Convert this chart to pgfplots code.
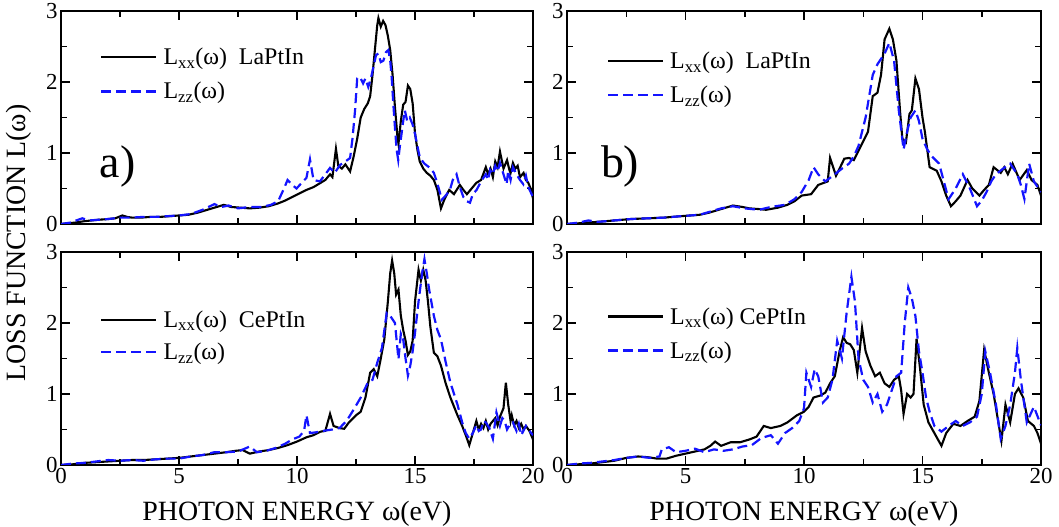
\documentclass[border=0pt]{standalone}
\usepackage{pgfplots}
\pgfplotsset{compat=1.18}
\usepackage{fontspec}
\setmainfont{Liberation Serif}
\newfontfamily\tnr{Liberation Serif}

\pgfplotsset{
 panel/.style={
  scale only axis, height=213bp,
  xmin=0,xmax=20,ymin=0,ymax=3,
  xtick={0,5,10,15,20}, ytick={0,1,2,3},
  minor x tick num=1, minor y tick num=1,
  tick align=inside,
  major tick length=9bp, minor tick length=6bp,
  tick style={black, line width=1.5bp},
  axis line style={line width=2.4bp},
  tick label style={font=\tnr\fontsize{23}{23}\selectfont},
  /pgf/number format/assume math mode=true,
  legend style={draw=none, fill=none, font=\tnr\fontsize{24}{26}\selectfont, anchor=north west, row sep=12bp, inner sep=0pt, column sep=4bp, cells={anchor=west}},
  legend image code/.code={\draw[##1] (0bp,0bp) -- (55bp,0bp);},
  xlabel style={font=\tnr\fontsize{28}{28}\selectfont, yshift=-10bp},
 },
 blk/.style={black, line width=2.1bp},
 blu/.style={color={rgb,255:red,20;green,20;blue,255}, line width=2.2bp, dash pattern=on 10bp off 5bp},
}

\begin{document}
\begin{tikzpicture}
\path[use as bounding box] (0,0) rectangle (1059bp,527bp);

% ---------------- panel a ----------------
\begin{axis}[panel, width=472bp, at={(61bp,303bp)}, anchor=south west, xticklabels={},
  legend style={at={(0.083,0.835)}}]
\addplot[blk] coordinates {(0,0) (0.3,0.01) (0.6,0.02) (1,0.04) (1.3,0.05) (1.6,0.06) (2,0.07) (2.3,0.08) (2.6,0.12) (2.8,0.10) (3,0.09) (3.4,0.09) (3.8,0.10) (4.2,0.10) (4.6,0.11) (5,0.12) (5.4,0.13) (5.8,0.16) (6.2,0.20) (6.6,0.24) (6.9,0.27) (7.2,0.24) (7.6,0.23) (8,0.22) (8.4,0.23) (8.8,0.25) (9.2,0.29) (9.5,0.33) (9.8,0.38) (10.1,0.43) (10.4,0.48) (10.7,0.52) (11.0,0.58) (11.2,0.62) (11.4,0.70) (11.5,0.66) (11.65,1.06) (11.75,0.82) (11.9,0.78) (12.05,0.84) (12.25,0.74) (12.4,0.95) (12.55,1.20) (12.7,1.50) (12.85,1.62) (13.0,1.70) (13.1,1.80) (13.2,2.10) (13.3,2.45) (13.4,2.80) (13.45,2.90) (13.55,2.78) (13.65,2.86) (13.75,2.80) (13.85,2.65) (13.95,2.45) (14.05,2.10) (14.15,1.65) (14.25,1.25) (14.3,1.13) (14.4,1.45) (14.5,1.68) (14.6,1.72) (14.7,1.95) (14.8,1.90) (14.9,1.70) (15.0,1.28) (15.1,1.05) (15.2,0.88) (15.35,0.78) (15.5,0.72) (15.65,0.68) (15.8,0.62) (15.95,0.48) (16.1,0.22) (16.25,0.35) (16.45,0.48) (16.65,0.42) (16.9,0.55) (17.05,0.48) (17.2,0.42) (17.4,0.50) (17.6,0.58) (17.8,0.62) (18.0,0.80) (18.1,0.70) (18.2,0.78) (18.3,0.66) (18.4,0.88) (18.5,0.80) (18.6,1.02) (18.7,0.86) (18.75,0.78) (18.9,0.90) (19.0,0.76) (19.05,0.72) (19.15,0.86) (19.25,0.78) (19.35,0.82) (19.45,0.66) (19.6,0.72) (19.7,0.62) (19.8,0.58) (19.9,0.50) (20,0.36)};
\addlegendentry{L\textsubscript{xx}(ω)~~LaPtIn}
\addplot[blu] coordinates {(0,0) (0.4,0.02) (0.9,0.08) (1.2,0.05) (1.6,0.06) (2,0.07) (2.5,0.09) (3,0.09) (3.5,0.10) (4,0.10) (4.5,0.11) (5,0.12) (5.5,0.14) (6,0.20) (6.5,0.28) (6.8,0.24) (7.1,0.26) (7.5,0.22) (8,0.24) (8.5,0.24) (8.9,0.27) (9.2,0.32) (9.45,0.50) (9.6,0.62) (9.8,0.55) (9.98,0.50) (10.2,0.58) (10.4,0.65) (10.55,0.91) (10.7,0.62) (10.97,0.60) (11.2,0.70) (11.4,0.79) (11.6,0.72) (11.82,0.83) (12.05,0.88) (12.25,0.93) (12.35,1.20) (12.46,1.60) (12.55,2.05) (12.67,2.07) (12.8,1.98) (12.9,2.05) (13.02,1.93) (13.13,2.05) (13.23,2.20) (13.35,2.38) (13.45,2.40) (13.55,2.28) (13.66,2.30) (13.77,2.42) (13.87,2.45) (13.95,2.30) (14.01,2.07) (14.08,1.70) (14.15,1.36) (14.22,1.05) (14.29,0.90) (14.36,1.10) (14.43,1.27) (14.5,1.45) (14.57,1.60) (14.67,1.45) (14.78,1.50) (14.9,1.40) (15.0,1.27) (15.1,1.10) (15.21,0.93) (15.4,0.85) (15.63,0.79) (15.8,0.72) (15.92,0.60) (16.05,0.45) (16.13,0.34) (16.3,0.40) (16.48,0.48) (16.6,0.62) (16.76,0.70) (16.9,0.52) (17.05,0.38) (17.2,0.32) (17.33,0.30) (17.45,0.42) (17.61,0.48) (17.8,0.60) (18.0,0.70) (18.1,0.62) (18.18,0.76) (18.3,0.70) (18.4,0.82) (18.5,0.74) (18.6,0.86) (18.75,0.70) (18.88,0.56) (18.95,0.75) (19.05,0.62) (19.15,0.80) (19.3,0.70) (19.45,0.62) (19.59,0.56) (19.7,0.68) (19.8,0.52) (20,0.38)};
\addlegendentry{L\textsubscript{zz}(ω)}
\node[font=\tnr\fontsize{46}{46}\selectfont] at (rel axis cs:0.12,0.27) {a)};
\end{axis}

% ---------------- panel b ----------------
\begin{axis}[panel, width=474bp, at={(567bp,303bp)}, anchor=south west, xticklabels={},
  legend style={at={(0.084,0.817)}}]
\addplot[blk] coordinates {(0,0) (0.5,0.01) (1.3,0.03) (2,0.05) (2.7,0.07) (3.4,0.08) (4.1,0.09) (4.8,0.11) (5.6,0.13) (6.0,0.16) (6.4,0.20) (7.0,0.26) (7.4,0.24) (7.7,0.22) (8.1,0.21) (8.4,0.20) (8.9,0.23) (9.3,0.27) (9.6,0.32) (9.9,0.40) (10.3,0.42) (10.6,0.55) (11.0,0.60) (11.1,0.93) (11.35,0.68) (11.5,0.78) (11.7,0.92) (11.9,0.93) (12.1,0.90) (12.4,1.10) (12.7,1.30) (12.9,1.80) (13.1,1.85) (13.25,2.10) (13.4,2.60) (13.6,2.75) (13.75,2.60) (13.9,2.30) (14.05,1.60) (14.15,1.20) (14.3,1.15) (14.45,1.55) (14.55,1.60) (14.7,2.05) (14.85,1.90) (15.0,1.50) (15.1,1.30) (15.3,0.80) (15.6,0.75) (15.8,0.60) (16.0,0.40) (16.2,0.25) (16.4,0.32) (16.6,0.40) (16.9,0.62) (17.1,0.50) (17.4,0.40) (17.6,0.48) (17.8,0.55) (18.0,0.80) (18.3,0.72) (18.45,0.80) (18.6,0.70) (18.8,0.85) (19.1,0.62) (19.4,0.76) (19.6,0.62) (19.85,0.55) (20,0.40)};
\addlegendentry{L\textsubscript{xx}(ω)~~LaPtIn}
\addplot[blu] coordinates {(0,0) (0.5,0.02) (0.9,0.05) (1.3,0.03) (2,0.05) (2.7,0.07) (3.4,0.08) (4.1,0.09) (4.8,0.11) (5.6,0.13) (6.0,0.17) (6.5,0.22) (7.0,0.25) (7.5,0.22) (8.1,0.20) (8.6,0.24) (9.2,0.27) (9.6,0.35) (9.9,0.45) (10.2,0.62) (10.4,0.80) (10.6,0.70) (10.9,0.60) (11.3,0.70) (11.6,0.78) (11.9,0.85) (12.1,0.95) (12.3,1.10) (12.6,1.50) (12.9,2.10) (13.1,2.25) (13.4,2.40) (13.6,2.55) (13.8,2.30) (14.0,1.60) (14.2,1.05) (14.35,1.30) (14.5,1.50) (14.7,1.60) (14.85,1.45) (15.0,1.20) (15.2,1.05) (15.4,0.95) (15.7,0.85) (15.9,0.60) (16.1,0.35) (16.4,0.50) (16.7,0.70) (17.0,0.50) (17.3,0.25) (17.5,0.33) (17.7,0.45) (17.9,0.60) (18.1,0.70) (18.4,0.78) (18.7,0.85) (19.0,0.70) (19.15,0.55) (19.3,0.35) (19.5,0.85) (19.7,0.60) (20,0.45)};
\addlegendentry{L\textsubscript{zz}(ω)}
\node[font=\tnr\fontsize{46}{46}\selectfont] at (rel axis cs:0.112,0.27) {b)};
\end{axis}

% ---------------- panel c ----------------
\begin{axis}[panel, width=472bp, at={(61bp,62bp)}, anchor=south west,
  xlabel={PHOTON ENERGY ω(eV)},
  legend style={at={(0.083,0.735)}, row sep=10bp}]
\addplot[blk] coordinates {(0,0) (0.5,0.01) (1,0.03) (1.5,0.04) (2,0.05) (2.5,0.06) (3,0.07) (3.5,0.07) (4,0.08) (4.5,0.09) (5,0.10) (5.5,0.12) (6,0.14) (6.5,0.16) (7,0.18) (7.4,0.20) (7.7,0.21) (8.0,0.16) (8.4,0.19) (8.8,0.21) (9.2,0.24) (9.6,0.28) (10.0,0.33) (10.4,0.39) (10.7,0.42) (11.0,0.47) (11.2,0.48) (11.4,0.72) (11.55,0.55) (11.8,0.52) (12.0,0.51) (12.2,0.60) (12.5,0.70) (12.7,0.75) (12.9,0.95) (13.1,1.30) (13.25,1.35) (13.4,1.25) (13.55,1.50) (13.7,1.77) (13.85,2.30) (13.95,2.70) (14.03,2.88) (14.12,2.70) (14.2,2.40) (14.3,2.47) (14.4,2.10) (14.5,1.90) (14.6,1.75) (14.7,1.55) (14.8,1.60) (14.9,1.75) (15.0,2.30) (15.15,2.75) (15.25,2.60) (15.35,2.75) (15.45,2.60) (15.55,2.30) (15.65,1.95) (15.8,1.58) (15.95,1.53) (16.1,1.40) (16.3,1.15) (16.5,0.95) (16.8,0.70) (17.0,0.55) (17.15,0.42) (17.3,0.28) (17.45,0.45) (17.6,0.62) (17.7,0.50) (17.8,0.58) (17.9,0.52) (18.0,0.62) (18.1,0.50) (18.2,0.58) (18.3,0.62) (18.4,0.66) (18.5,0.56) (18.6,0.68) (18.75,0.80) (18.85,1.16) (18.95,0.85) (19.05,0.62) (19.1,0.70) (19.2,0.56) (19.3,0.62) (19.4,0.52) (19.5,0.58) (19.6,0.50) (19.7,0.55) (19.85,0.48) (20,0.36)};
\addlegendentry{L\textsubscript{xx}(ω)~~CePtIn}
\addplot[blu] coordinates {(0,0) (0.5,0.02) (1,0.03) (1.5,0.05) (2,0.07) (2.5,0.06) (3,0.07) (3.5,0.06) (4,0.08) (4.5,0.09) (5,0.09) (5.5,0.12) (6,0.14) (6.5,0.18) (7,0.18) (7.5,0.19) (8.0,0.26) (8.3,0.18) (8.7,0.20) (9.1,0.24) (9.5,0.30) (9.8,0.36) (10.1,0.40) (10.3,0.48) (10.4,0.70) (10.55,0.45) (10.8,0.46) (11.1,0.48) (11.5,0.50) (11.8,0.52) (12.1,0.62) (12.4,0.78) (12.7,0.95) (13.0,1.16) (13.2,1.20) (13.4,1.44) (13.6,1.65) (13.8,2.14) (13.95,2.10) (14.15,2.00) (14.3,1.49) (14.4,1.85) (14.5,1.77) (14.6,1.50) (14.7,1.26) (14.8,1.40) (14.9,1.60) (15.0,1.86) (15.15,2.30) (15.3,2.70) (15.4,2.90) (15.5,2.70) (15.6,2.47) (15.8,2.10) (15.95,1.90) (16.1,1.77) (16.3,1.45) (16.5,1.16) (16.8,0.85) (17.0,0.60) (17.15,0.45) (17.3,0.37) (17.45,0.45) (17.6,0.56) (17.7,0.48) (17.8,0.50) (17.9,0.62) (18.0,0.60) (18.15,0.52) (18.3,0.37) (18.45,0.74) (18.6,0.55) (18.7,0.66) (18.8,0.62) (18.9,0.50) (19.0,0.56) (19.15,0.60) (19.25,0.52) (19.3,0.48) (19.4,0.58) (19.5,0.42) (19.7,0.55) (19.85,0.48) (20,0.42)};
\addlegendentry{L\textsubscript{zz}(ω)}
\end{axis}

% ---------------- panel d ----------------
\begin{axis}[panel, width=474bp, at={(567bp,62bp)}, anchor=south west,
  xlabel={PHOTON ENERGY ω(eV)},
  legend style={at={(0.084,0.75)}}]
\addplot[blk] coordinates {(0,0) (0.5,0.01) (1,0.02) (1.5,0.04) (2,0.06) (2.5,0.10) (3,0.12) (3.4,0.11) (3.8,0.09) (4.2,0.09) (4.6,0.13) (5,0.16) (5.4,0.19) (5.8,0.22) (6.05,0.27) (6.25,0.33) (6.5,0.27) (6.9,0.32) (7.3,0.32) (7.7,0.36) (8.0,0.40) (8.3,0.55) (8.6,0.52) (9.0,0.55) (9.3,0.60) (9.7,0.70) (10.0,0.75) (10.2,0.82) (10.4,0.95) (10.7,0.98) (10.9,1.02) (11.1,1.15) (11.3,1.25) (11.5,1.60) (11.65,1.80) (11.8,1.72) (11.95,1.70) (12.1,1.62) (12.25,1.30) (12.45,1.93) (12.6,1.60) (12.8,1.40) (13.0,1.25) (13.2,1.30) (13.4,1.15) (13.6,1.10) (13.8,1.20) (14.0,1.25) (14.1,1.05) (14.2,0.72) (14.35,1.00) (14.5,0.95) (14.62,1.00) (14.75,1.78) (14.9,1.35) (15.05,0.85) (15.25,0.60) (15.5,0.45) (15.8,0.27) (16.0,0.45) (16.3,0.58) (16.6,0.55) (16.9,0.62) (17.2,0.68) (17.4,0.90) (17.6,1.62) (17.8,1.30) (18.0,1.00) (18.15,0.70) (18.33,0.34) (18.5,0.85) (18.7,0.60) (18.9,1.00) (19.05,1.08) (19.25,0.95) (19.45,0.62) (19.7,0.55) (19.85,0.45) (20,0.30)};
\addlegendentry{L\textsubscript{xx}(ω) CePtIn}
\addplot[blu] coordinates {(0,0) (0.5,0.02) (1,0.03) (1.5,0.05) (2,0.07) (2.5,0.10) (3,0.12) (3.5,0.10) (3.9,0.12) (4.0,0.22) (4.3,0.25) (4.6,0.18) (5,0.20) (5.4,0.23) (5.8,0.18) (6.2,0.22) (6.6,0.20) (7.0,0.22) (7.4,0.26) (7.8,0.28) (8.2,0.38) (8.6,0.42) (8.9,0.30) (9.2,0.45) (9.5,0.52) (9.8,0.62) (10.0,0.80) (10.1,1.30) (10.3,1.10) (10.45,1.35) (10.6,1.25) (10.8,0.88) (11.0,0.95) (11.2,1.20) (11.4,1.75) (11.6,1.50) (11.8,2.15) (12.0,2.65) (12.15,2.30) (12.3,1.50) (12.5,1.20) (12.7,1.10) (12.9,0.88) (13.1,1.00) (13.3,0.75) (13.5,0.85) (13.7,1.05) (13.9,1.25) (14.1,1.30) (14.25,2.00) (14.4,2.50) (14.55,2.35) (14.7,2.10) (14.85,1.60) (15.0,1.30) (15.15,0.95) (15.3,0.75) (15.5,0.55) (15.8,0.47) (16.1,0.55) (16.4,0.62) (16.7,0.55) (17.0,0.60) (17.3,0.68) (17.5,1.00) (17.65,1.60) (17.85,1.30) (18.1,0.85) (18.3,0.37) (18.5,0.55) (18.7,0.85) (18.9,1.30) (19.0,1.65) (19.15,1.20) (19.4,0.60) (19.7,0.82) (20,0.56)};
\addlegendentry{L\textsubscript{zz}(ω)}
\end{axis}

\node[rotate=90, font=\tnr\fontsize{28}{28}\selectfont] at (19bp,284bp) {LOSS FUNCTION L(ω)};
\end{tikzpicture}
\end{document}
